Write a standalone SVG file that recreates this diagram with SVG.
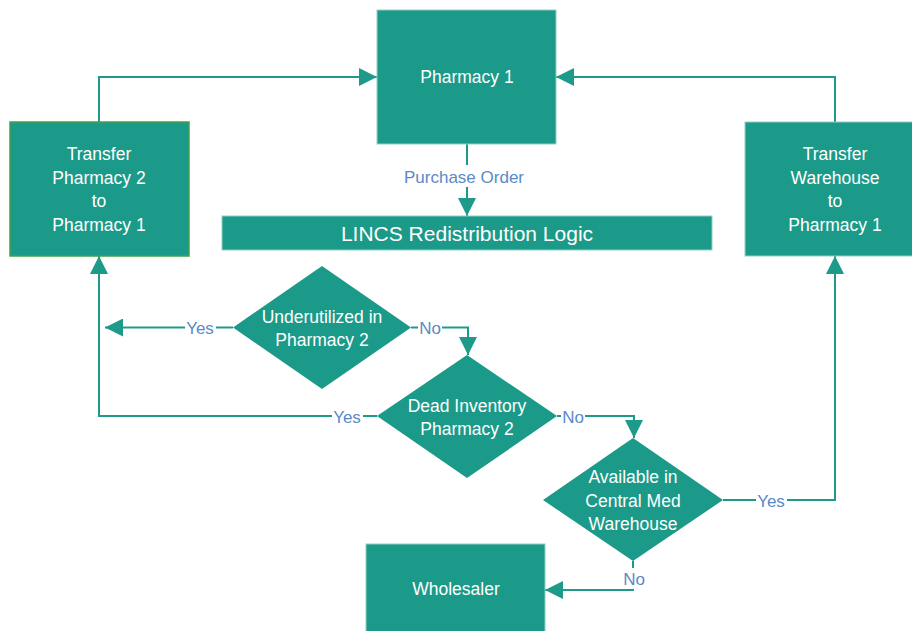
<svg xmlns="http://www.w3.org/2000/svg" width="912" height="631" viewBox="0 0 912 631">
  <style>
    .box { fill: #1B9A89; stroke: #8FCFC4; stroke-width: 1; }
    .box.green { stroke: #3FA34E; stroke-width: 1.5; }
    .dia { fill: #1B9A89; }
    .t { font-family: "Liberation Sans", Arial, sans-serif; font-size: 17.5px; fill: #FFFFFF; text-anchor: middle; }
    .big { font-size: 21px; }
    .lbl { font-family: "Liberation Sans", Arial, sans-serif; font-size: 17px; fill: #5A8AC6; text-anchor: middle; }
    .conn { fill: none; stroke: #1E9A8A; stroke-width: 2; marker-end: url(#ah); }
    .bg { fill: #FFFFFF; }
  </style>
  <defs>
    <marker id="ah" markerUnits="userSpaceOnUse" markerWidth="18" markerHeight="18" viewBox="0 0 17 17" refX="17" refY="8.5" orient="auto">
      <path d="M0,0 L17,8.5 L0,17 z" fill="#1E9A8A"/>
    </marker>
  </defs>
  <rect width="912" height="631" fill="#FFFFFF"/>

  <g id="connectors">
    <path class="conn" d="M99,122 V77 H377"/>
    <path class="conn" d="M835,122 V77 H556"/>
    <path class="conn" d="M467,144 V216"/>
    <path class="conn" d="M233,327.5 H105"/>
    <path class="conn" d="M411,327.5 H468 V355"/>
    <path class="conn" d="M377,416 H99 V256"/>
    <path class="conn" d="M557,416 H634 V438"/>
    <path class="conn" d="M723,500 H835 V256"/>
    <path class="conn" d="M633,561 V590 H545"/>
    <g id="labels">
      <rect class="bg" x="398" y="165" width="132" height="22"/>
      <text class="lbl" x="464" y="183">Purchase Order</text>
      <rect class="bg" x="185" y="318" width="31" height="20"/>
      <text class="lbl" x="200" y="334">Yes</text>
      <rect class="bg" x="418" y="318" width="24" height="20"/>
      <text class="lbl" x="430" y="334">No</text>
      <rect class="bg" x="332" y="407" width="31" height="20"/>
      <text class="lbl" x="347" y="423">Yes</text>
      <rect class="bg" x="561" y="407" width="24" height="20"/>
      <text class="lbl" x="573" y="423">No</text>
      <rect class="bg" x="756" y="491" width="31" height="20"/>
      <text class="lbl" x="771" y="507">Yes</text>
      <rect class="bg" x="622" y="568" width="24" height="21"/>
      <text class="lbl" x="634" y="585">No</text>
    </g>
  </g>

  <g id="pharmacy1">
    <rect class="box" x="377" y="10" width="179" height="134"/>
    <text class="t" x="467" y="83">Pharmacy 1</text>
  </g>
  <g id="lincs">
    <rect class="box" x="222" y="216" width="490" height="34"/>
    <text class="t big" x="467" y="241">LINCS Redistribution Logic</text>
  </g>
  <g id="transfer-pharmacy2">
    <rect class="box green" x="10" y="122" width="179" height="134"/>
    <text class="t" x="99" y="160">Transfer</text>
    <text class="t" x="99" y="183.5">Pharmacy 2</text>
    <text class="t" x="99" y="207">to</text>
    <text class="t" x="99" y="230.5">Pharmacy 1</text>
  </g>
  <g id="transfer-warehouse">
    <rect class="box" x="745" y="122" width="180" height="134"/>
    <text class="t" x="835" y="160">Transfer</text>
    <text class="t" x="835" y="183.5">Warehouse</text>
    <text class="t" x="835" y="207">to</text>
    <text class="t" x="835" y="230.5">Pharmacy 1</text>
  </g>
  <g id="underutilized">
    <polygon class="dia" points="322,266 411,327.5 322,389 233,327.5"/>
    <text class="t" x="322" y="322.5">Underutilized in</text>
    <text class="t" x="322" y="346">Pharmacy 2</text>
  </g>
  <g id="dead-inventory">
    <polygon class="dia" points="467,355 557,416 467,478 377,416"/>
    <text class="t" x="467" y="411.5">Dead Inventory</text>
    <text class="t" x="467" y="435">Pharmacy 2</text>
  </g>
  <g id="available-warehouse">
    <polygon class="dia" points="633,438 723,500 633,561 543,500"/>
    <text class="t" x="633" y="483">Available in</text>
    <text class="t" x="633" y="506.5">Central Med</text>
    <text class="t" x="633" y="530">Warehouse</text>
  </g>
  <g id="wholesaler">
    <rect class="box" x="366" y="544" width="179" height="100"/>
    <text class="t" x="456" y="595">Wholesaler</text>
  </g>
</svg>
